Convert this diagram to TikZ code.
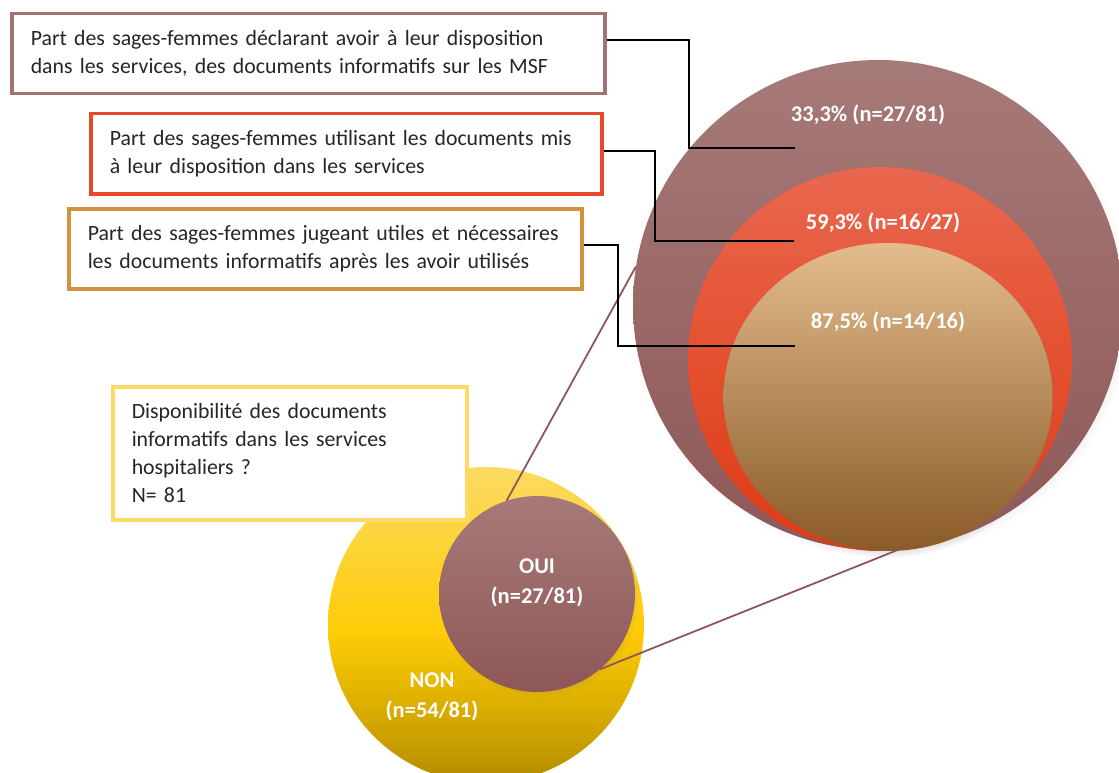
\documentclass[tikz,border=0pt]{standalone}
\usepackage{fontspec}
\setmainfont{Carlito}
\usetikzlibrary{shapes.geometric,shadows}
\definecolor{mauvetop}{HTML}{A67A78}
\definecolor{mauvebot}{HTML}{8E5757}
\definecolor{mauveline}{HTML}{A37272}
\definecolor{redtop}{HTML}{E9674F}
\definecolor{redbot}{HTML}{DF3A12}
\definecolor{redline}{HTML}{E8492B}
\definecolor{tantop}{HTML}{E3BC8D}
\definecolor{tanmid}{HTML}{D29650}
\definecolor{tanbot}{HTML}{8A5A28}
\definecolor{tanline}{HTML}{D6913E}
\definecolor{yeltop}{HTML}{FBDA62}
\definecolor{yelhigh}{HTML}{FDD43A}
\definecolor{yelmid}{HTML}{FFCC08}
\definecolor{yellow2}{HTML}{E6B800}
\definecolor{yellow3}{HTML}{D4A800}
\definecolor{yellow4}{HTML}{BF9600}
\definecolor{yelbot}{HTML}{B08A00}
\definecolor{yelline}{HTML}{FFD966}
\definecolor{textgray}{HTML}{262626}
\pgfdeclareverticalshading{yelshade}{100bp}{color(0bp)=(yelbot); color(25bp)=(yelbot);
  color(28.5bp)=(yellow4); color(35bp)=(yellow3); color(41bp)=(yellow2);
  color(49bp)=(yelmid); color(63.5bp)=(yelhigh); color(75bp)=(yeltop); color(100bp)=(yeltop)}
\begin{document}
\begin{tikzpicture}[x=1pt,y=-1pt,
  infobox/.style={draw=#1, line width=3.5pt, fill=white, anchor=north west,
    inner xsep=19pt, inner ysep=0pt, align=left, text=textgray,
    font=\fontsize{21.8}{28}\selectfont},
  disc/.style={circle, inner sep=0pt, minimum size=#1},
  soft/.style={circular drop shadow={shadow scale=1.02, shadow xshift=3pt, shadow yshift=-3pt, opacity=0.3}},
  pct/.style={text=white, align=center, font=\fontsize{22.5}{30}\selectfont\bfseries},
  leader/.style={line width=2.7pt},
  link/.style={draw=mauvebot, line width=1.8pt}]
\useasboundingbox (0,0) rectangle (1119,773);
% cercles
\node[disc=316, shading=yelshade] (non) at (486,625) {};
\node[disc=196, soft, top color=mauvetop, bottom color=mauvebot] (oui) at (537,594) {};
\node[disc=490, soft, top color=mauvetop, bottom color=mauvebot] (dispo) at (878,305) {};
\node[disc=384, soft, top color=redtop, bottom color=redbot] (util) at (880,359) {};
\node[ellipse, soft, inner sep=0pt, minimum width=329, minimum height=308,
  top color=tantop, middle color=tanmid, bottom color=tanbot] (utile) at (888,397) {};
\draw[link] (oui.108) -- (dispo.171);
\draw[link] (oui.310) -- (dispo.275);
% cadres
\node[infobox=mauveline, minimum width=593, minimum height=80, text width=555] (b1) at (10,12)
  {Part des sages-femmes déclarant avoir à leur disposition\\dans les services, des documents informatifs sur les MSF};
\node[infobox=redline, minimum width=511, minimum height=80, text width=473] (b2) at (89,112)
  {Part des sages-femmes utilisant les documents mis\\à leur disposition dans les services};
\node[infobox=tanline, minimum width=513, minimum height=80, text width=475] (b3) at (67,207)
  {Part des sages-femmes jugeant utiles et nécessaires\\les documents informatifs après les avoir utilisés};
\node[infobox=yelline, minimum width=354, minimum height=133, text width=316] (b4) at (111,385)
  {Disponibilité des documents\\informatifs dans les services\\hospitaliers ?\\N= 81};
% textes
\node[pct] (p1) at (868,115) {33,3\% (n=27/81)};
\node[pct] (p2) at (883,223) {59,3\% (n=16/27)};
\node[pct] (p3) at (888,322) {87,5\% (n=14/16)};
\node[pct] (loui) at (537,583) {OUI\\(n=27/81)};
\node[pct] (lnon) at (432,697) {NON\\(n=54/81)};
% traits
\coordinate (k1) at (689,40);  \coordinate (e1) at (795,148);
\coordinate (k2) at (655,151); \coordinate (e2) at (794,241);
\coordinate (k3) at (618,245); \coordinate (e3) at (795,346);
\draw[leader] (b1.east |- k1) -- (k1) |- (e1);
\draw[leader] (b2.east |- k2) -- (k2) |- (e2);
\draw[leader] (b3.east |- k3) -- (k3) |- (e3);
\end{tikzpicture}
\end{document}
